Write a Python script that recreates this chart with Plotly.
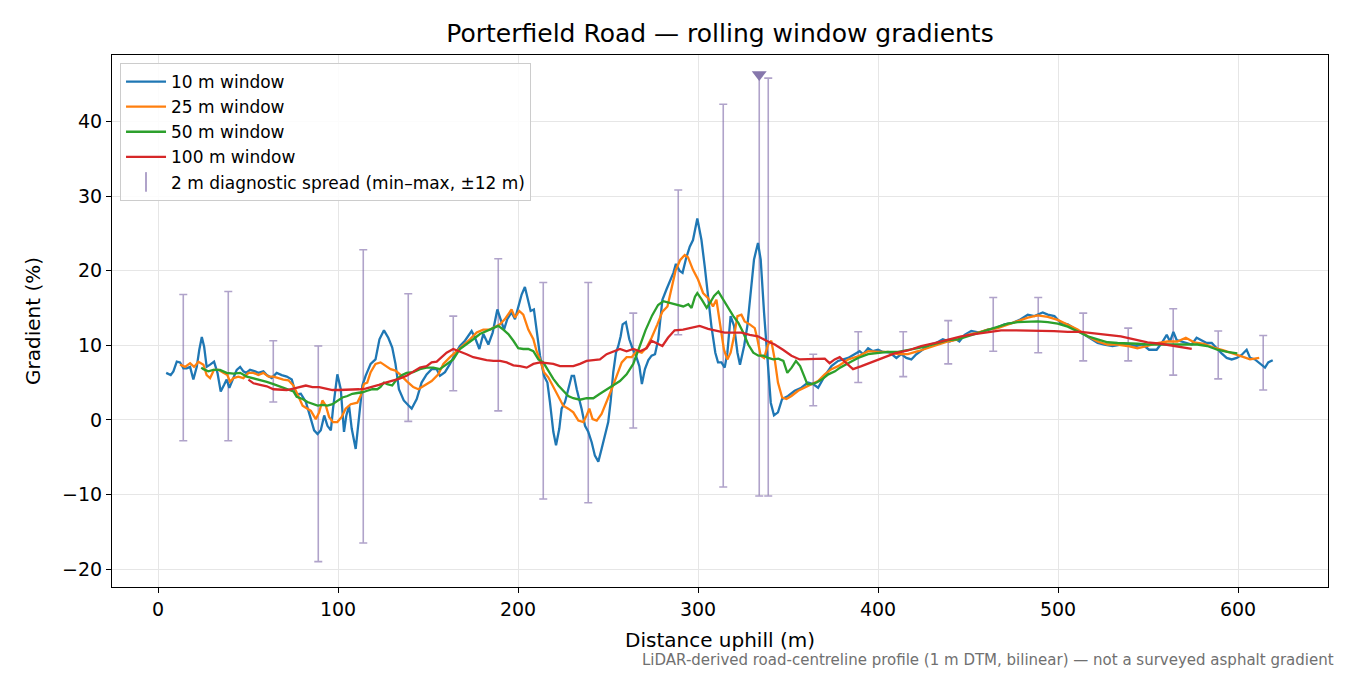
import plotly.graph_objects as go

# distance uphill (m) and gradient (%)
x10 = [4.5, 7.0, 8.5, 10.4, 12.2, 14.1, 15.9, 17.8, 19.6, 21.5, 22.9, 24.3, 25.6, 27.0, 28.9, 31.1, 33.0, 34.8, 36.7, 38.1,
       39.6, 41.5, 43.7, 45.6, 47.4, 48.9, 51.1, 53.9, 55.7, 58.5, 60.4, 63.1, 65.9, 68.7, 71.5, 74.3, 76.6, 79.3, 82.1, 84.9,
       86.7, 88.6, 90.4, 92.3, 94.1, 96.0, 97.2, 99.6, 101.5, 103.3, 104.6, 106.1, 107.6, 109.8, 111.3, 113.5, 115.3, 118.1, 120.8, 123.0,
       125.5, 127.9, 130.1, 131.9, 133.8, 136.5, 139.3, 140.9, 143.7, 146.4, 149.2, 152.0, 154.8, 156.6, 159.4, 162.2, 165.0, 167.7, 170.5, 174.2,
       176.1, 178.5, 180.7, 183.5, 185.9, 188.5, 190.0, 192.2, 194.0, 196.4, 198.3, 200.1, 202.0, 203.8, 205.7, 207.0, 208.8, 210.3, 212.2, 214.4,
       216.3, 217.7, 219.6, 221.1, 222.9, 224.2, 226.1, 227.9, 229.8, 231.1, 232.6, 235.3, 237.2, 239.0, 240.9, 242.7, 244.6, 246.4, 248.3, 250.1,
       251.4, 252.9, 254.4, 255.7, 257.0, 258.1, 259.9, 261.8, 263.7, 265.5, 267.4, 268.8, 270.5, 272.4, 274.2, 276.1, 277.9, 280.2, 282.5, 284.5,
       286.3, 287.7, 289.7, 291.4, 293.3, 295.4, 297.2, 299.6, 301.9, 303.7, 305.6, 307.4, 309.6, 311.1, 313.0, 314.8, 316.3, 318.1, 320.0, 321.9,
       323.3, 325.6, 327.4, 329.3, 331.1, 333.3, 334.8, 336.7, 338.5, 340.4, 342.2, 344.4, 346.7, 350.0, 353.7, 357.4, 361.1, 363.9, 366.7, 370.4,
       374.1, 377.8, 383.4, 388.0, 389.8, 391.7, 394.5, 397.2, 400.0, 402.8, 406.5, 410.2, 412.9, 415.7, 418.5, 421.3, 425.0, 428.7, 432.3, 436.0,
       439.7, 443.4, 445.2, 448.1, 451.8, 456.4, 461.0, 465.6, 470.2, 474.9, 478.6, 483.2, 486.9, 491.5, 494.3, 498.0, 501.5, 505.4, 510.0, 514.6,
       518.3, 522.0, 525.7, 530.3, 534.9, 539.6, 543.3, 547.0, 550.6, 554.8, 557.6, 560.4, 562.2, 564.1, 565.9, 568.7, 571.5, 574.3, 577.0, 579.8,
       582.6, 585.4, 588.1, 590.9, 593.7, 596.5, 599.3, 602.0, 604.8, 606.7, 609.4, 612.2, 615.0, 616.8, 619.3]
g10 = [6.3, 6.0, 6.5, 7.8, 7.7, 6.9, 6.9, 7.1, 5.4, 7.1, 9.4, 11.1, 9.8, 7.1, 7.4, 7.8, 6.3, 3.8, 4.7, 5.4,
       4.3, 5.4, 6.7, 7.1, 6.5, 6.3, 6.7, 6.5, 6.3, 6.5, 6.0, 5.6, 6.3, 6.0, 5.8, 5.4, 3.4, 3.5, 2.4, 0.1,
       -1.4, -1.9, -1.4, 0.6, -0.8, -1.4, 1.5, 6.1, 4.1, -1.6, 0.6, 1.9, -1.2, -3.9, -0.3, 4.6, 5.9, 7.5, 8.1, 10.8,
       12.0, 11.0, 9.7, 7.5, 4.1, 2.6, 1.9, 1.5, 2.8, 5.0, 6.1, 6.8, 6.8, 5.9, 6.4, 7.5, 8.8, 9.9, 10.6, 11.9,
       11.0, 9.5, 11.5, 10.1, 11.7, 14.8, 13.7, 12.1, 13.5, 14.4, 13.5, 15.0, 16.8, 17.8, 15.9, 14.6, 14.8, 11.7, 8.6, 5.9,
       5.0, 2.4, -1.6, -3.4, -1.2, 1.5, 2.4, 4.1, 5.9, 5.9, 4.1, 1.5, -0.8, -1.6, -3.0, -4.8, -5.6, -3.9, -2.1, -0.3,
       2.4, 6.4, 9.0, 9.9, 11.2, 12.8, 13.1, 10.8, 9.5, 8.6, 7.2, 4.8, 6.8, 8.0, 8.6, 8.8, 10.8, 16.1, 17.5, 18.6,
       19.7, 20.9, 20.0, 19.7, 21.6, 23.2, 24.1, 27.0, 24.1, 20.6, 16.6, 12.6, 9.0, 7.7, 7.7, 7.0, 9.0, 13.9, 12.6, 9.0,
       7.4, 9.9, 12.6, 17.0, 21.5, 23.7, 21.5, 14.3, 8.1, 2.3, 0.6, 1.0, 2.8, 3.2, 3.9, 4.3, 5.0, 4.8, 4.3, 5.9,
       7.2, 7.9, 8.3, 9.0, 9.2, 8.8, 9.6, 9.2, 9.4, 9.1, 9.0, 8.3, 8.8, 8.3, 8.1, 8.8, 9.4, 10.1, 10.3, 10.8,
       10.5, 10.8, 10.5, 11.4, 11.9, 11.7, 12.1, 12.3, 12.8, 13.0, 13.4, 14.1, 13.9, 14.4, 14.1, 13.9, 13.0, 12.8, 12.1, 11.4,
       10.8, 10.3, 10.1, 9.9, 10.1, 10.1, 9.9, 10.1, 9.4, 9.4, 10.3, 11.4, 10.5, 11.8, 10.7, 10.5, 10.3, 10.1, 11.0, 10.7,
       10.3, 10.3, 9.6, 8.9, 8.3, 8.1, 8.3, 8.7, 9.4, 8.3, 8.1, 7.6, 7.0, 7.7, 8.0]

x25 = [12.2, 15.0, 17.8, 20.0, 22.4, 25.2, 27.0, 28.9, 31.1, 33.5, 36.3, 38.5, 40.0, 41.9, 44.6, 47.4, 50.2, 53.0, 55.7, 58.5,
       61.3, 64.1, 66.9, 69.6, 72.4, 75.2, 77.5, 80.3, 83.0, 84.9, 87.6, 89.5, 91.3, 93.2, 95.0, 97.2, 99.6, 102.0, 104.2, 107.0,
       110.7, 112.5, 114.4, 116.2, 118.1, 120.8, 123.6, 126.4, 129.2, 131.9, 134.4, 138.1, 141.8, 144.6, 148.3, 152.0, 155.7, 158.5, 162.2, 165.9,
       169.6, 173.3, 177.0, 180.7, 184.4, 187.2, 190.0, 192.7, 194.6, 196.4, 198.3, 200.7, 202.9, 205.7, 208.5, 210.3, 212.2, 214.4, 216.8, 219.6,
       222.4, 225.1, 227.9, 230.7, 233.5, 236.3, 238.1, 239.6, 241.4, 243.7, 246.4, 249.2, 252.0, 254.8, 257.6, 260.3, 263.1, 265.9, 268.7, 271.4,
       274.2, 277.4, 280.2, 283.0, 285.3, 287.5, 290.0, 292.6, 294.4, 297.2, 300.0, 302.8, 305.6, 308.3, 310.2, 312.0, 314.4, 316.3, 318.1, 320.0,
       321.9, 324.1, 325.9, 328.7, 331.5, 333.0, 334.8, 336.7, 338.9, 340.7, 342.6, 344.4, 346.7, 349.1, 351.9, 355.6, 359.3, 363.0, 366.7, 370.4,
       374.1, 377.8, 383.4, 388.9, 394.5, 400.0, 405.5, 411.1, 416.6, 422.2, 427.7, 433.3, 438.8, 444.4, 449.9, 455.5, 461.0, 466.5, 472.1, 477.6,
       483.2, 488.7, 494.3, 499.8, 505.4, 510.9, 516.5, 522.0, 527.5, 533.1, 538.6, 544.1, 549.7, 555.2, 560.8, 566.3, 571.0, 575.6, 581.1, 586.5,
       592.0, 597.6, 603.2, 606.7, 611.8]
g25 = [7.4, 7.1, 7.6, 7.1, 7.8, 7.4, 6.0, 5.6, 6.7, 6.7, 6.3, 6.0, 5.1, 5.6, 5.8, 5.6, 6.3, 6.3, 6.0, 6.3,
       5.8, 5.8, 5.6, 5.4, 5.3, 4.6, 3.4, 1.9, 1.5, 1.2, 0.1, 1.0, 2.6, 1.9, 0.4, -0.3, -0.3, 0.4, 1.5, 2.1,
       2.3, 3.2, 4.8, 5.0, 6.4, 7.5, 7.7, 7.2, 6.8, 6.6, 6.1, 5.2, 4.4, 4.1, 4.6, 5.2, 6.1, 7.5, 8.4, 9.2,
       9.9, 10.8, 11.7, 12.1, 12.1, 12.4, 12.8, 13.5, 14.1, 14.8, 13.7, 14.6, 14.1, 12.1, 10.8, 9.2, 8.1, 6.4, 5.7, 4.4,
       3.0, 1.9, 1.5, 1.0, -0.1, -0.3, 0.6, 1.5, 0.1, -0.1, 0.8, 2.4, 4.1, 5.9, 7.7, 8.4, 8.4, 9.2, 9.0, 9.7,
       11.0, 12.8, 14.5, 15.2, 17.9, 20.0, 21.4, 22.1, 21.8, 20.1, 18.8, 17.0, 16.3, 15.2, 16.1, 13.0, 9.4, 8.1, 9.0, 11.2,
       13.9, 14.1, 13.2, 12.8, 12.3, 10.8, 8.6, 8.3, 10.1, 10.6, 8.1, 5.0, 3.0, 2.8, 3.2, 3.9, 4.3, 4.8, 5.2, 6.1,
       6.8, 7.2, 8.1, 8.5, 9.2, 9.1, 9.1, 8.8, 8.8, 9.2, 9.6, 10.1, 10.5, 10.8, 11.4, 11.7, 12.1, 12.3, 12.8, 13.2,
       13.7, 14.0, 13.8, 13.4, 12.8, 12.1, 11.2, 10.5, 10.1, 10.1, 9.9, 9.6, 9.9, 10.3, 10.5, 10.5, 11.0, 10.4, 10.2, 9.7,
       9.3, 8.9, 8.4, 8.1, 8.3]

x50 = [24.0, 25.2, 27.9, 30.7, 34.4, 38.1, 41.9, 45.6, 49.3, 53.0, 56.7, 60.4, 64.1, 67.8, 71.5, 75.2, 77.0, 80.3, 83.0, 85.8,
       88.6, 91.3, 94.1, 96.9, 99.6, 102.4, 105.2, 107.9, 110.7, 113.5, 116.2, 119.0, 121.8, 123.6, 125.5, 127.3, 130.1, 132.8, 135.6, 138.1,
       141.8, 145.5, 149.2, 152.9, 156.6, 160.3, 164.0, 167.7, 171.4, 175.1, 178.8, 182.5, 186.3, 189.0, 191.8, 194.6, 197.4, 200.1, 202.9, 205.7,
       208.5, 211.3, 214.0, 216.8, 219.6, 222.4, 225.1, 227.9, 230.7, 234.4, 238.1, 241.8, 245.5, 249.2, 252.9, 256.6, 260.3, 264.0, 267.2, 270.8,
       274.5, 277.8, 280.7, 284.4, 288.1, 291.8, 294.6, 296.4, 298.3, 299.6, 302.1, 304.8, 306.7, 308.9, 311.3, 314.0, 316.8, 319.6, 322.4, 325.1,
       327.9, 330.7, 333.5, 336.3, 339.0, 341.8, 344.6, 347.4, 349.6, 352.0, 354.4, 356.7, 358.9, 360.7, 363.1, 365.9, 368.7, 372.4, 376.1, 378.9,
       383.4, 388.9, 394.5, 400.0, 405.5, 411.1, 416.6, 422.2, 427.7, 433.3, 438.8, 444.4, 449.9, 455.5, 461.0, 466.5, 472.1, 477.6, 483.2, 488.7,
       494.3, 499.8, 505.4, 510.9, 516.5, 522.0, 527.5, 533.1, 538.6, 544.1, 549.7, 555.2, 560.8, 566.3, 571.8, 577.4, 582.9, 588.5, 594.0, 599.6]
g50 = [7.0, 6.8, 6.5, 6.7, 6.7, 6.3, 6.2, 6.3, 5.8, 5.6, 5.3, 5.1, 4.8, 4.5, 4.2, 3.8, 3.1, 2.8, 2.4, 2.1,
       1.9, 2.0, 1.9, 2.1, 2.6, 3.0, 3.2, 3.5, 3.6, 3.7, 3.9, 4.1, 4.1, 4.4, 5.0, 4.8, 4.6, 5.5, 6.0, 6.3,
       6.4, 6.8, 7.0, 7.0, 6.8, 7.5, 8.1, 9.5, 10.1, 10.8, 11.5, 11.9, 12.4, 12.6, 12.1, 11.5, 10.6, 9.6, 9.5, 9.5,
       9.2, 8.1, 7.7, 6.6, 5.5, 4.6, 3.9, 3.2, 2.9, 2.7, 2.9, 2.9, 3.5, 4.1, 4.7, 5.2, 6.1, 7.5, 9.6, 12.0,
       14.0, 15.4, 15.9, 15.7, 15.5, 15.2, 15.5, 15.0, 16.5, 17.0, 16.1, 15.0, 15.7, 16.6, 17.2, 16.1, 15.0, 13.9, 13.0, 11.7,
       10.1, 9.0, 8.6, 8.6, 8.3, 8.1, 8.2, 7.9, 6.3, 7.0, 7.9, 7.2, 5.9, 4.8, 4.8, 5.0, 5.4, 6.1, 6.5, 7.0,
       7.6, 8.3, 8.8, 9.0, 9.1, 9.1, 9.3, 9.6, 9.9, 10.3, 10.7, 10.8, 11.2, 11.7, 12.1, 12.5, 12.9, 13.1, 13.2, 13.2,
       13.1, 12.9, 12.5, 11.9, 11.2, 10.8, 10.4, 10.3, 10.3, 10.2, 10.1, 10.1, 10.1, 10.0, 10.0, 10.1, 9.9, 9.4, 9.1, 8.9]

x100 = [50.2, 53.0, 56.7, 60.4, 64.1, 67.8, 71.5, 75.2, 78.4, 82.1, 85.8, 89.5, 93.2, 96.9, 100.6, 104.2, 107.9, 111.6, 115.3, 119.0,
        122.7, 126.4, 130.1, 133.8, 138.1, 141.8, 145.5, 149.2, 152.0, 154.8, 157.5, 160.3, 164.0, 167.7, 171.4, 175.1, 178.8, 182.5, 186.3, 190.0,
        193.7, 197.4, 201.1, 204.8, 208.5, 212.2, 216.1, 219.6, 223.3, 227.0, 230.7, 234.4, 238.1, 241.8, 245.5, 249.2, 252.9, 256.6, 260.3, 264.0,
        267.7, 271.4, 274.1, 277.8, 280.2, 283.3, 287.0, 291.7, 296.3, 300.9, 305.6, 310.2, 314.8, 319.4, 324.1, 328.7, 333.3, 338.0, 342.6, 347.2,
        351.9, 356.5, 361.1, 365.7, 370.4, 373.1, 375.9, 378.7, 382.4, 386.1, 390.8, 396.3, 401.9, 409.2, 416.6, 424.0, 431.4, 438.8, 446.2, 453.6,
        461.0, 468.4, 475.8, 483.2, 490.6, 497.8, 505.4, 512.8, 520.1, 527.5, 534.9, 542.3, 549.7, 557.1, 564.5, 571.8, 574.3]
g100 = [5.4, 4.9, 4.7, 4.5, 4.1, 4.0, 4.0, 4.2, 4.4, 4.6, 4.4, 4.4, 4.2, 4.0, 4.0, 4.0, 4.1, 4.1, 4.2, 4.4,
        4.7, 5.0, 5.2, 5.5, 5.9, 6.4, 7.0, 7.2, 7.7, 7.8, 8.4, 9.0, 9.5, 9.2, 8.8, 8.4, 8.2, 8.0, 7.9, 7.9,
        7.7, 7.3, 7.2, 7.0, 7.5, 7.7, 7.6, 7.5, 7.2, 7.2, 7.2, 7.5, 7.9, 8.0, 8.1, 8.8, 9.2, 9.5, 9.2, 9.5,
        9.2, 9.6, 10.6, 10.2, 9.9, 11.0, 12.0, 12.1, 12.4, 12.6, 12.2, 11.9, 11.7, 11.7, 11.7, 11.4, 11.2, 10.6, 10.1, 9.4,
        8.6, 8.1, 8.1, 8.1, 8.2, 7.6, 8.1, 8.4, 7.6, 6.8, 7.2, 7.7, 8.2, 8.9, 9.3, 9.9, 10.3, 10.8, 11.2, 11.5,
        11.7, 12.0, 12.0, 12.0, 12.0, 11.9, 11.8, 11.8, 11.6, 11.4, 11.2, 10.8, 10.4, 10.2, 9.9, 9.6, 9.5]

# 2 m diagnostic spread (min-max within +-12 m)
diag_x = [14, 39, 64, 89, 114, 139, 164, 189, 214, 239, 264, 289, 314, 334, 339, 364, 389, 414, 439, 464, 489, 514, 539, 564, 589, 614]
diag_lo = [-2.8, -2.8, 2.4, -19.0, -16.5, -0.2, 3.9, 1.2, -10.6, -11.1, -1.1, 11.4, -9.0, -10.2, -10.2, 1.9, 5.0, 5.8, 7.5, 9.2, 9.0, 7.9, 7.9, 6.0, 5.5, 4.0]
diag_hi = [16.8, 17.2, 10.6, 9.9, 22.8, 16.9, 13.9, 21.6, 18.4, 18.4, 14.3, 30.8, 42.3, 46.3, 45.8, 8.8, 11.8, 11.8, 13.3, 16.4, 16.4, 14.3, 12.3, 14.9, 11.9, 11.3]
# spread clipped at the top of the axes
clip_x = [334]
clip_y = [46.3]

series = [
    ("10 m window", x10, g10, "#1f77b4"),
    ("25 m window", x25, g25, "#ff7f0e"),
    ("50 m window", x50, g50, "#2ca02c"),
    ("100 m window", x100, g100, "#d62728"),
]

spread_col = "rgba(128,106,170,0.62)"
font = "DejaVu Sans"

fig = go.Figure()

mid = [(a + b) / 2 for a, b in zip(diag_lo, diag_hi)]
half = [(b - a) / 2 for a, b in zip(diag_lo, diag_hi)]
fig.add_trace(go.Scatter(x=diag_x, y=mid, mode="markers", marker=dict(size=1, opacity=0),
                         error_y=dict(type="data", array=half, symmetric=True, color=spread_col,
                                      thickness=1.6, width=4),
                         showlegend=False, hoverinfo="skip"))
fig.add_trace(go.Scatter(x=clip_x, y=clip_y, mode="markers", showlegend=False,
                         marker=dict(symbol="triangle-down", size=13, color="#8677ac")))

for name, xs, ys, col in series:
    fig.add_trace(go.Scatter(x=xs, y=ys, mode="lines", name=name, legendgroup=name,
                             line=dict(color=col, width=2.3)))

# legend entry for the spread bars
fig.add_trace(go.Scatter(x=[None], y=[None], mode="markers", name="2 m diagnostic spread (min–max, ±12 m)",
                         legendgroup="spread",
                         marker=dict(symbol="line-ns-open", size=14, color=spread_col,
                                     line=dict(color=spread_col, width=2))))

axis_common = dict(showline=True, mirror=True, linecolor="black", linewidth=1.2,
                   ticks="outside", ticklen=5, tickwidth=1.2, tickcolor="black",
                   showgrid=True, gridcolor="#e6e6e6", gridwidth=1, zeroline=False,
                   tickfont=dict(family=font, size=19, color="black"))

fig.update_xaxes(range=[-25.6, 650], tickvals=[0, 100, 200, 300, 400, 500, 600],
                 title=dict(text="Distance uphill (m)", font=dict(family=font, size=20, color="black"), standoff=14),
                 **axis_common)
fig.update_yaxes(range=[-22.4, 48.9], tickvals=[-20, -10, 0, 10, 20, 30, 40],
                 title=dict(text="Gradient (%)", font=dict(family=font, size=20, color="black"), standoff=15),
                 **axis_common)

# the page body adds an 8 px margin, so the figure is 8 px smaller each way
fig.update_layout(
    width=1342, height=667,
    margin=dict(l=104, r=22, t=47, b=88),
    plot_bgcolor="white", paper_bgcolor="white",
    font=dict(family=font, color="black"),
    title=dict(text="Porterfield Road — rolling window gradients", x=0.5, xanchor="center", xref="paper",
               y=0.9625, yanchor="middle", font=dict(family=font, size=25, color="black")),
    legend=dict(x=0.0066, y=0.985, xanchor="left", yanchor="top", bgcolor="rgba(255,255,255,0.85)",
                bordercolor="#cccccc", borderwidth=1, font=dict(family=font, size=17, color="black"),
                tracegroupgap=0, itemwidth=40),
    annotations=[dict(text="LiDAR-derived road-centreline profile (1 m DTM, bilinear) — not a surveyed asphalt gradient",
                      xref="paper", yref="paper", x=1.0066, y=-0.137, xanchor="right", yanchor="middle",
                      showarrow=False, font=dict(family=font, size=15, color="#707070"))],
)

fig.write_html("out.html")
